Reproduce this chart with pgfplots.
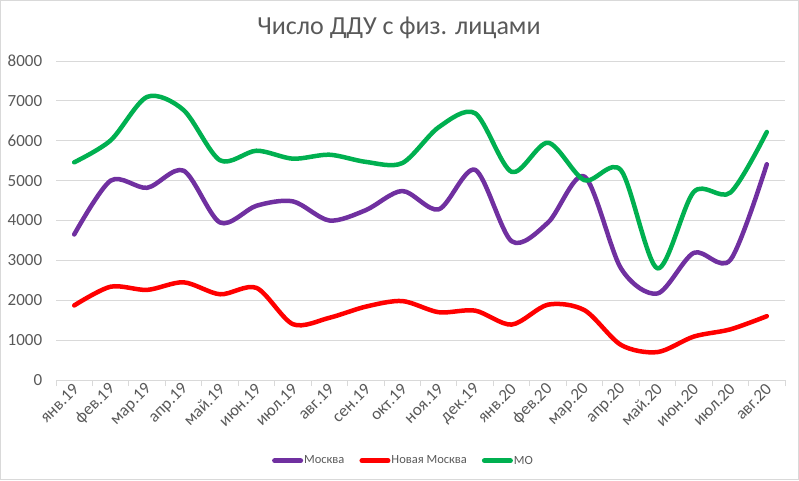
\documentclass[border=0pt]{standalone}
\usepackage{fontspec}
\setmainfont{Carlito}
\usepackage{pgfplots}
\pgfplotsset{compat=1.18}
\definecolor{txt}{HTML}{595959}
\definecolor{grd}{HTML}{D9D9D9}
\definecolor{cmos}{HTML}{7030A0}
\definecolor{cnew}{HTML}{FF0000}
\definecolor{cmo}{HTML}{00B050}
\begin{document}
\begin{tikzpicture}[x=1pt,y=1pt]
\useasboundingbox (0,0) rectangle (799,480);
\draw[grd, line width=1pt] (0.5,0.5) rectangle (798.5,479.5);
\node[anchor=base, text=txt, font=\fontsize{26}{30}\selectfont, inner sep=0pt] at (399,445) {Число ДДУ с физ. лицами};
\begin{axis}[at={(56pt,100pt)}, anchor=south west, scale only axis, width=729pt, height=319pt,
 xmin=-0.5, xmax=19.5, ymin=0, ymax=8000,
 xtick={0,...,19},
 xticklabels={янв.19,фев.19,мар.19,апр.19,май.19,июн.19,июл.19,авг.19,сен.19,окт.19,ноя.19,дек.19,янв.20,фев.20,мар.20,апр.20,май.20,июн.20,июл.20,авг.20},
 minor xtick={-0.5,0.5,...,19.5},
 ytick={0,1000,...,8000},
 axis x line*=bottom, axis y line*=left,
 x axis line style={-, draw=grd, line width=1pt},
 y axis line style={draw=none},
 ymajorgrids, major grid style={draw=grd, line width=1pt},
 major x tick style={draw=none}, major y tick style={draw=none},
 minor x tick style={draw=grd, line width=1pt},
 tick align=outside, minor tick length=6pt,
 /pgf/number format/.cd, 1000 sep={}, assume math mode=true, /pgfplots/.cd,
 xticklabel style={rotate=45, anchor=east, text=txt, font=\fontsize{17}{19}\selectfont, xshift=3pt, yshift=-3pt},
 yticklabel style={text=txt, font=\fontsize{17}{19}\selectfont, xshift=-6pt},
 legend columns=3,
 legend style={draw=none, fill=none, at={(0.4760,-0.253)}, anchor=center,
   font=\fontsize{12.5}{14}\selectfont, text=txt, nodes={inner xsep=1pt},
   /tikz/every even column/.append style={column sep=14pt}},
 legend image code/.code={\draw[#1, line width=5pt, line cap=round] (0pt,0pt) -- (26pt,0pt);},
 every axis plot/.append style={line width=4.5pt, smooth, line cap=round, line join=round},
]
\addplot[cmos] coordinates {(0,3650)(1,5000)(2,4820)(3,5250)(4,3950)(5,4370)(6,4480)(7,4000)(8,4260)(9,4740)(10,4280)(11,5270)(12,3480)(13,3950)(14,5100)(15,2800)(16,2170)(17,3190)(18,3010)(19,5410)};
\addlegendentry{Москва}
\addplot[cnew] coordinates {(0,1870)(1,2340)(2,2260)(3,2450)(4,2150)(5,2310)(6,1400)(7,1560)(8,1840)(9,1980)(10,1700)(11,1740)(12,1390)(13,1890)(14,1750)(15,880)(16,700)(17,1090)(18,1270)(19,1600)};
\addlegendentry{Новая Москва}
\addplot[cmo] coordinates {(0,5460)(1,6010)(2,7100)(3,6770)(4,5510)(5,5750)(6,5550)(7,5650)(8,5470)(9,5440)(10,6340)(11,6690)(12,5220)(13,5950)(14,5010)(15,5260)(16,2800)(17,4720)(18,4700)(19,6220)};
\addlegendentry{МО}
\end{axis}
\end{tikzpicture}
\end{document}
